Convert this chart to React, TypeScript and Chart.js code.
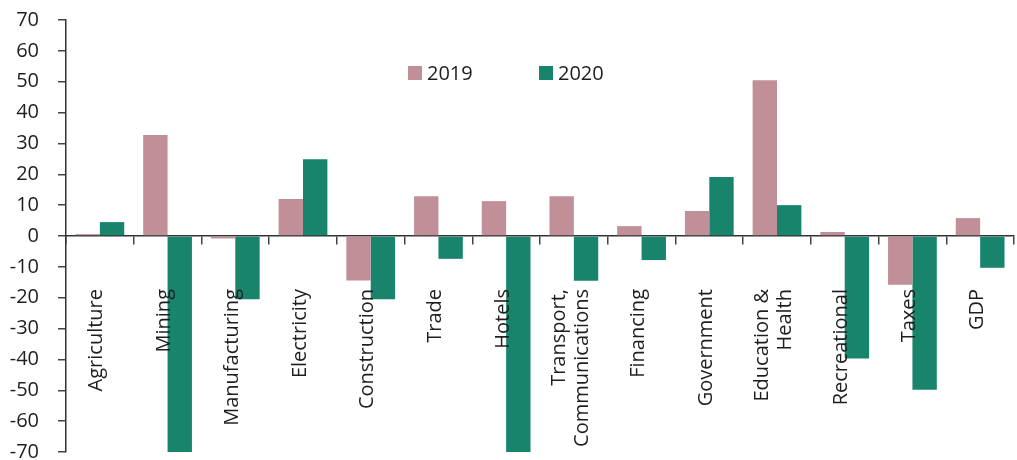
import React, { useEffect, useRef } from "react";
import { Chart, registerables } from "chart.js";

Chart.register(...registerables);

const categories: (string | string[])[] = [
  "Agriculture",
  "Mining",
  "Manufacturing",
  "Electricity",
  "Construction",
  "Trade",
  "Hotels",
  ["Transport,", "Communications"],
  "Financing",
  "Government",
  ["Education &", "Health"],
  "Recreational",
  "Taxes",
  "GDP",
];

const values2019: number[] = [0.6, 32.7, -0.8, 12.0, -14.4, 12.9, 11.3, 12.9, 3.2, 8.1, 50.5, 1.3, -15.8, 5.8];
const values2020: number[] = [4.5, -70, -20.5, 24.9, -20.5, -7.4, -70, -14.5, -7.8, 19.1, 10.0, -39.7, -49.8, -10.3];

const seriesLabels = ["2019", "2020"];
const seriesColors = ["#C08F97", "#17846B"];

const FONT = "'Open Sans', sans-serif";
const TEXT = "#1e1e1e";

const insideLegend = {
  id: "insideLegend",
  afterDraw(chart: any) {
    const { ctx, chartArea } = chart;
    const x0 = chartArea.left + 342;
    const yc = chartArea.top + 53;
    ctx.save();
    ctx.font = `20px ${FONT}`;
    ctx.textBaseline = "middle";
    ctx.textAlign = "left";
    let x = x0;
    chart.data.datasets.forEach((ds: any) => {
      ctx.fillStyle = ds.backgroundColor;
      ctx.fillRect(x, yc - 7, 14, 14);
      ctx.fillStyle = TEXT;
      ctx.fillText(ds.label, x + 19, yc + 1);
      x += 131;
    });
    ctx.restore();
  },
};

// Category labels drawn rotated, on top of the bars, hanging below the zero line.
const categoryLabels = {
  id: "categoryLabels",
  afterDatasetsDraw(chart: any) {
    const { ctx } = chart;
    const xs = chart.scales.x;
    const ys = chart.scales.y;
    const yTop = ys.getPixelForValue(0) + 53;
    const lineH = 23;
    ctx.save();
    ctx.font = `20px ${FONT}`;
    ctx.fillStyle = TEXT;
    ctx.textAlign = "right";
    ctx.textBaseline = "alphabetic";
    (chart.data.labels as any[]).forEach((lab, i) => {
      const lines: string[] = Array.isArray(lab) ? lab : [lab];
      const cx = xs.getPixelForValue(i);
      lines.forEach((ln, j) => {
        const off = 2.5 + (j - (lines.length - 1) / 2) * lineH;
        ctx.save();
        ctx.translate(cx + off, yTop);
        ctx.rotate(-Math.PI / 2);
        ctx.fillText(ln, 0, 0);
        ctx.restore();
      });
    });
    ctx.restore();
  },
};

export default function App() {
  const ref = useRef<HTMLCanvasElement | null>(null);

  useEffect(() => {
    if (!ref.current) return;
    const chart = new Chart(ref.current, {
      type: "bar",
      data: {
        labels: categories as any,
        datasets: [
          { label: seriesLabels[0], data: values2019, backgroundColor: seriesColors[0], borderWidth: 0 },
          { label: seriesLabels[1], data: values2020, backgroundColor: seriesColors[1], borderWidth: 0 },
        ],
      },
      options: {
        animation: false,
        responsive: true,
        maintainAspectRatio: false,
        datasets: { bar: { categoryPercentage: 0.72, barPercentage: 1 } },
        layout: { padding: { top: 20, bottom: 8, right: 3, left: 0 } },
        plugins: { legend: { display: false }, tooltip: { enabled: false } },
        scales: {
          x: {
            position: { y: 0 } as any,
            z: 1,
            grid: { drawOnChartArea: false, drawTicks: true, tickLength: 8, color: "#444", lineWidth: 1.5, offset: true },
            border: { display: true, color: "#333", width: 1.5 },
            ticks: { display: false, autoSkip: false },
            afterFit: (s: any) => {
              s.height = 0;
              s.paddingLeft = 0;
              s.paddingRight = 0;
            },
          },
          y: {
            min: -70,
            max: 70,
            grid: { drawOnChartArea: false, drawTicks: true, tickLength: 8, color: "#444", lineWidth: 1.5 },
            border: { display: true, color: "#333", width: 1.5 },
            ticks: {
              stepSize: 10,
              padding: 19,
              color: TEXT,
              font: { family: FONT, size: 20 },
            },
            afterFit: (s: any) => {
              s.width = 66;
              s.paddingTop = 0;
              s.paddingBottom = 0;
            },
          },
        },
      },
      plugins: [categoryLabels, insideLegend],
    });
    return () => chart.destroy();
  }, []);

  return (
    <div style={{ position: "absolute", left: 0, top: 0, width: 1017, height: 460, background: "#fff" }}>
      <canvas ref={ref} />
    </div>
  );
}
